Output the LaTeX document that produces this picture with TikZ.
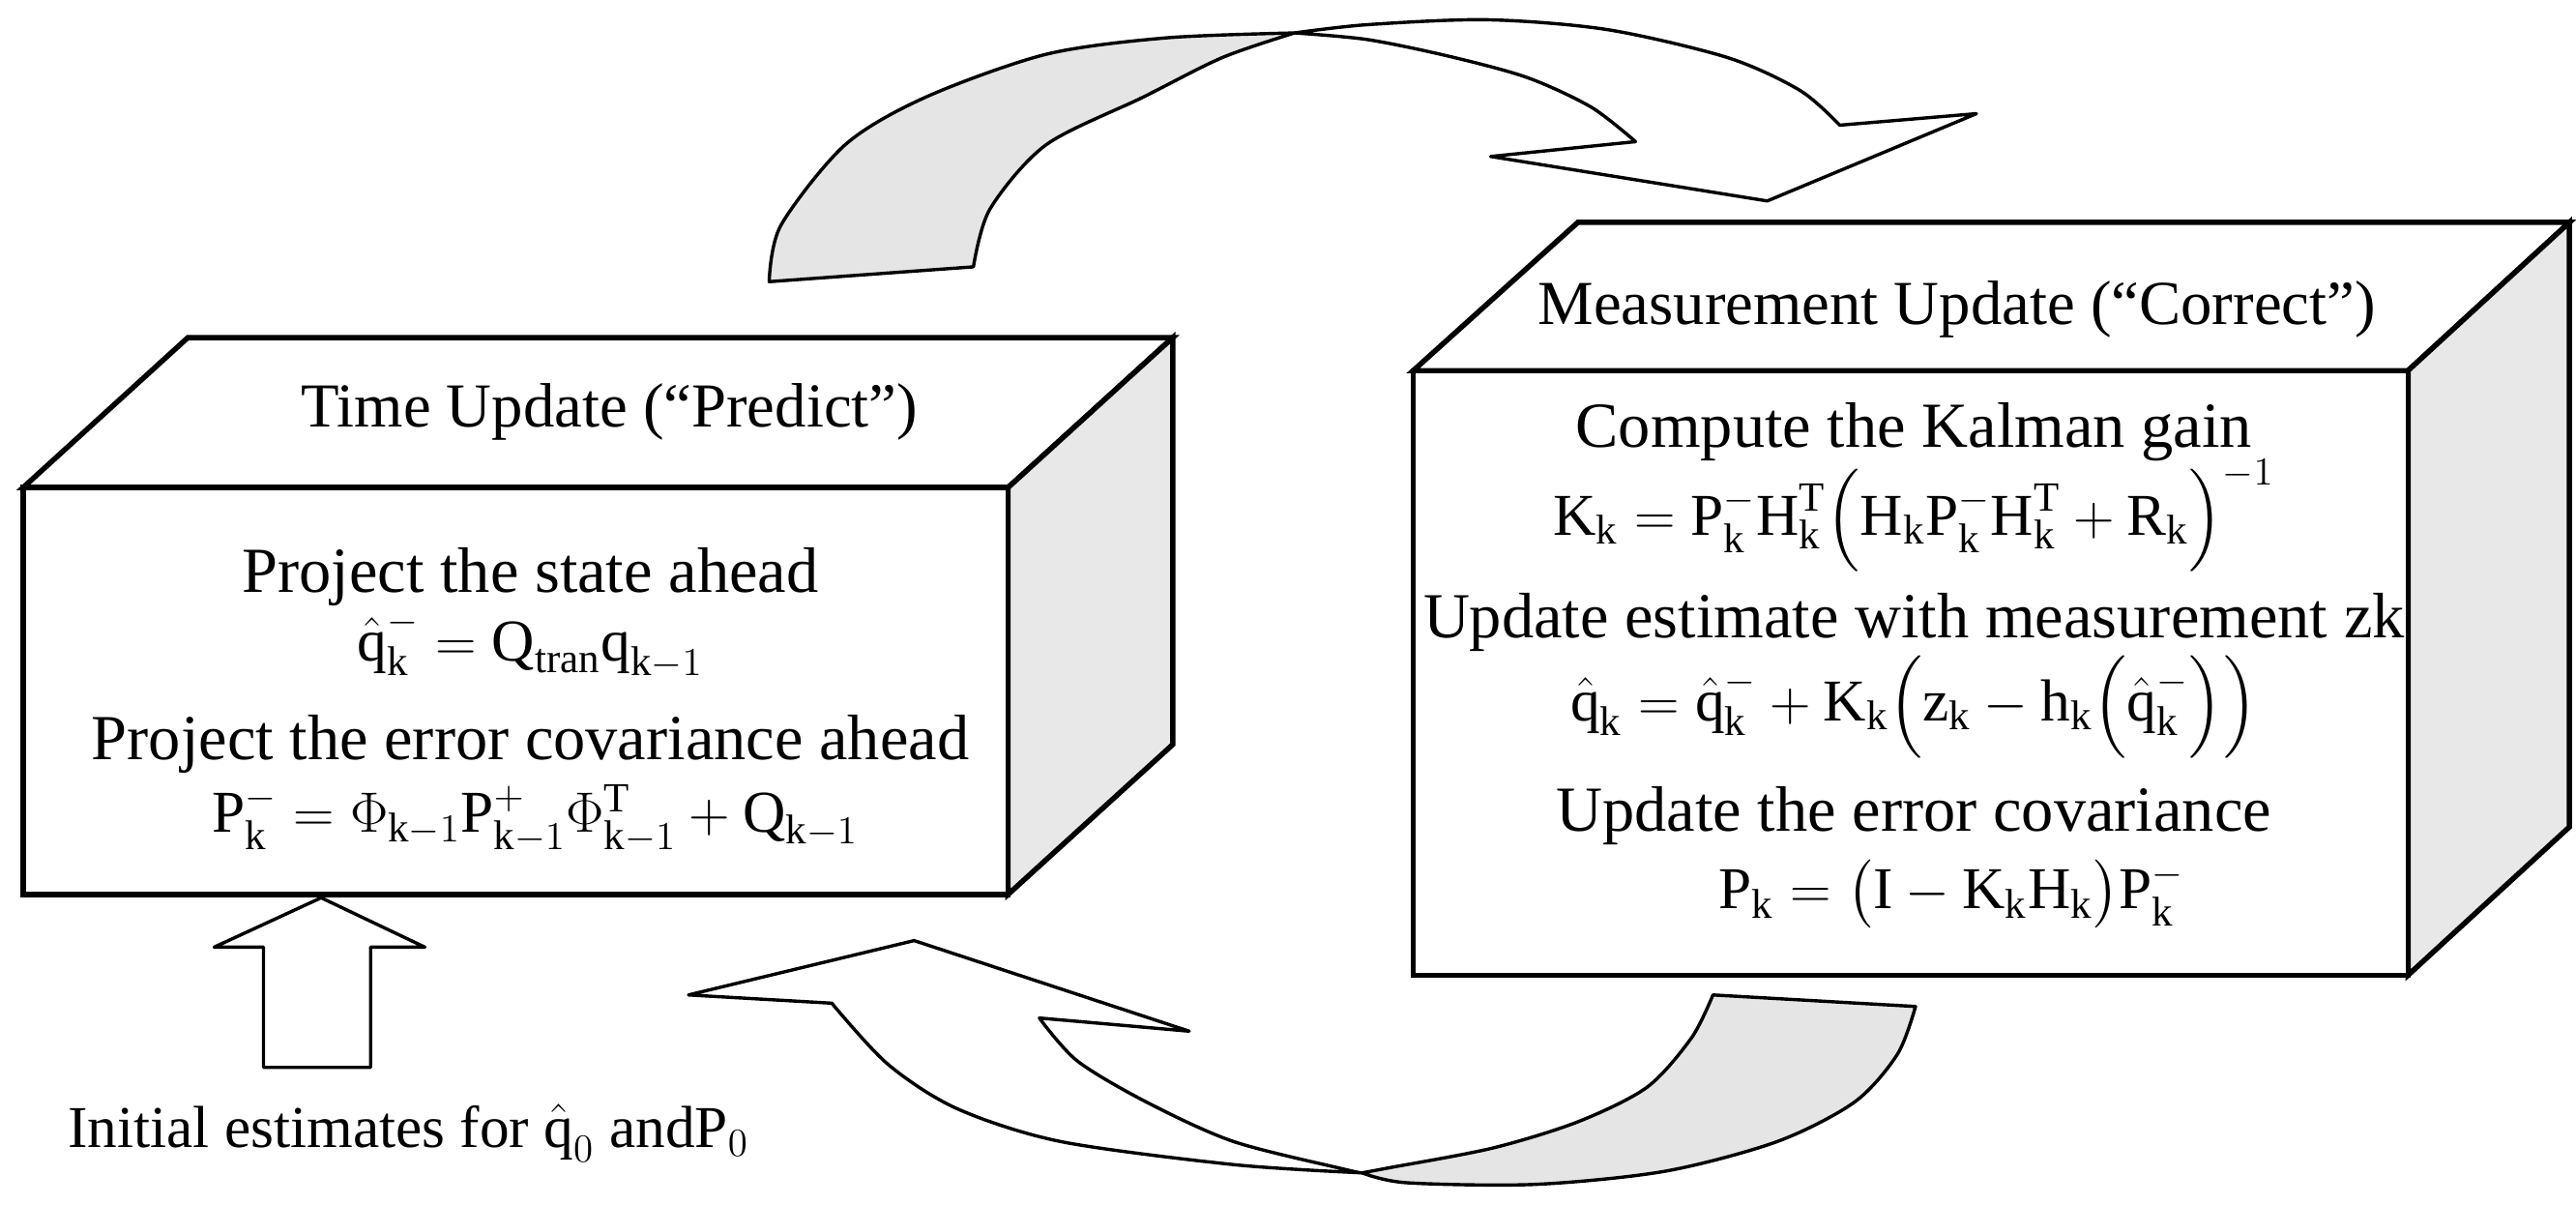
\documentclass[tikz,border=0pt]{standalone}
\usepackage{amsmath}
\usepackage{fontspec}
\setmainfont{Liberation Serif}
\newcommand{\R}[1]{\textrm{#1}}
\begin{document}
\begin{tikzpicture}[x=0.5pt,y=-0.5pt,
  box/.style={draw=black,line width=1.6pt,line join=miter},
  side/.style={box,fill=gray!18},
  arr/.style={draw=black,line width=1pt,line join=round},
  big/.style={font=\fontsize{19.5}{21}\selectfont,inner sep=0pt},
  eq/.style={font=\fontsize{18}{20}\selectfont,inner sep=0pt},
  ttl/.style={font=\fontsize{19}{20}\selectfont,inner sep=0pt}]
\useasboundingbox (0,0) rectangle (1564,731);
% curved arrows (top)
\path[arr,fill=gray!20] plot[smooth] coordinates{(467,171)(474,137)(513,88)(562,59)(635,33)(708,23)(786,20)} -- plot[smooth] coordinates{(786,20)(742,35)(694,59)(635,88)(601,127)(591,162)} -- cycle;
\path[arr,fill=white] plot[smooth] coordinates{(786,20)(830,15)(903,12)(976,18)(1049,35)(1093,55)(1117,76)} -- (1200,69) -- (1073,122) -- (905,95) -- (993,86) -- plot[smooth] coordinates{(993,86)(966,65)(927,47)(879,34)(830,24)(786,20)} -- cycle;
% curved arrows (bottom)
\path[arr,fill=gray!20] plot[smooth] coordinates{(1163,611)(1152,640)(1126,669)(1079,693)(1011,711)(932,719)(854,718)(827,712)} -- plot[smooth] coordinates{(827,712)(843,709)(906,697)(958,681)(1000,660)(1027,630)(1040,604)} -- cycle;
\path[arr,fill=white] plot[smooth] coordinates{(827,712)(749,707)(644,693)(581,673)(539,646)(505,609)} -- (418,604) -- (555,571) -- (722,626) -- (631,618) -- plot[smooth] coordinates{(631,618)(654,644)(696,669)(749,693)(817,710)(827,712)} -- cycle;
% up arrow
\path[arr,fill=white] (160,648) -- (160,575) -- (130,575) -- (195,545) -- (258,575) -- (225,575) -- (225,648) -- cycle;
% left box
\path[box,fill=white] (14,296) -- (114,205) -- (712,205) -- (612,296) -- cycle;
\path[side] (612,296) -- (712,205) -- (712,452) -- (612,543) -- cycle;
\path[box,fill=white] (14,296) rectangle (612,543);
% right box
\path[box,fill=white] (858,225) -- (958,135) -- (1560,135) -- (1462,225) -- cycle;
\path[side] (1462,225) -- (1560,135) -- (1560,502) -- (1462,592) -- cycle;
\path[box,fill=white] (858,225) rectangle (1462,592);
% texts left
\node[ttl] (t1) at (370,250) {Time Update (“Predict”)};
\node[big] (l1) at (322,350) {Project the state ahead};
\node[eq] (l2) at (322,391) {$\hat{\R{q}}_\R{k}^- = \R{Q}_{\R{tran}}\R{q}_{\R{k}-1}$};
\node[big] (l3) at (322,452) {Project the error covariance ahead};
\node[eq] (l4) at (325,497) {$\R{P}_\R{k}^- = \Phi_{\R{k}-1}\R{P}^+_{\R{k}-1}\Phi^\R{T}_{\R{k}-1} + \R{Q}_{\R{k}-1}$};
% texts right
\node[ttl] (t2) at (1188,188) {Measurement Update (“Correct”)};
\node[big] (r1) at (1162,262) {Compute the Kalman gain};
\node[eq] (r2) at (1162,313) {$\R{K}_\R{k} = \R{P}_\R{k}^-\R{H}_\R{k}^\R{T}\Bigl(\R{H}_\R{k}\R{P}_\R{k}^-\R{H}_\R{k}^\R{T} + \R{R}_\R{k}\Bigr)^{-1}$};
\node[big] (r3) at (1162,378) {Update estimate with measurement zk};
\node[eq] (r4) at (1162,429) {$\hat{\R{q}}_\R{k} = \hat{\R{q}}_\R{k}^- + \R{K}_\R{k}\Bigl(\R{z}_\R{k} - \R{h}_\R{k}\Bigl(\hat{\R{q}}_\R{k}^-\Bigr)\Bigr)$};
\node[big] (r5) at (1162,495) {Update the error covariance};
\node[eq] (r6) at (1185,543) {$\R{P}_\R{k} = \bigl(\R{I} - \R{K}_\R{k}\R{H}_\R{k}\bigr)\R{P}_\R{k}^-$};
% bottom text
\node[eq] (b1) at (248,688) {Initial estimates for $\hat{\R{q}}_0$ and$\R{P}_0$};
\end{tikzpicture}
\end{document}
